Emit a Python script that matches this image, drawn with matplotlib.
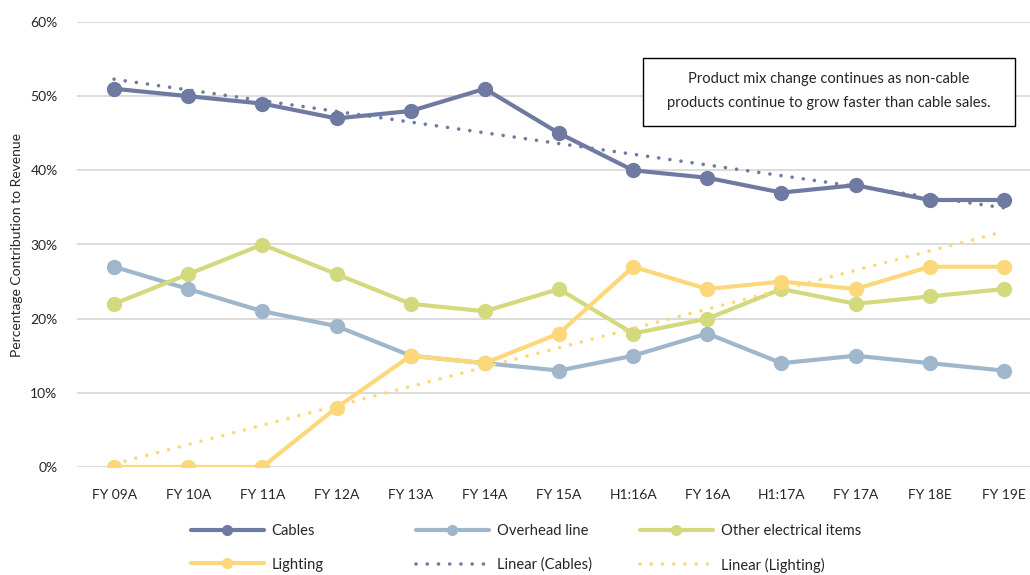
import numpy as np
import matplotlib
matplotlib.use("Agg")
import matplotlib.pyplot as plt
from matplotlib.patches import Rectangle
from matplotlib.ticker import PercentFormatter

plt.rcParams["font.family"] = ["Lato", "DejaVu Sans"]

periods = ["FY 09A", "FY 10A", "FY 11A", "FY 12A", "FY 13A", "FY 14A", "FY 15A",
           "H1:16A", "FY 16A", "H1:17A", "FY 17A", "FY 18E", "FY 19E"]
cables = [51, 50, 49, 47, 48, 51, 45, 40, 39, 37, 38, 36, 36]
overhead = [27, 24, 21, 19, 15, 14, 13, 15, 18, 14, 15, 14, 13]
other_items = [22, 26, 30, 26, 22, 21, 24, 18, 20, 24, 22, 23, 24]
lighting = [0, 0, 0, 8, 15, 14, 18, 27, 24, 25, 24, 27, 27]

note = "Product mix change continues as non-cable\nproducts continue to grow faster than cable sales."

c_cables = "#6f7aa3"
c_overhead = "#9fb6cb"
c_other = "#d3da7d"
c_lighting = "#fcd87a"
text_col = "#262626"

fig = plt.figure(figsize=(10.3, 5.75), dpi=100)
ax = fig.add_axes([77 / 1030, 108 / 575, 964 / 1030, 445 / 575])

x = np.arange(len(periods))


def pct(vals):
    return np.array(vals) / 100.0


series = [
    ("Cables", cables, c_cables),
    ("Overhead line", overhead, c_overhead),
    ("Other electrical items", other_items, c_other),
    ("Lighting", lighting, c_lighting),
]
handles = {}
for name, vals, col in series:
    (h,) = ax.plot(x, pct(vals), color=col, lw=3, marker="o", ms=10,
                   solid_capstyle="round", zorder=3, label=name)
    handles[name] = h

# linear trend lines
for name, vals, col in [("Linear (Cables)", cables, c_cables),
                        ("Linear (Lighting)", lighting, c_lighting)]:
    k, b = np.polyfit(x, pct(vals), 1)
    (h,) = ax.plot(x, k * x + b, color=col, lw=2.6, linestyle=(0, (0.01, 3.1)),
                   dash_capstyle="round", zorder=4, label=name)
    handles[name] = h

ax.set_xlim(-0.5, len(periods) - 0.5)
ax.set_ylim(0, 0.6)
ax.set_yticks(np.arange(0, 0.61, 0.1))
ax.yaxis.set_major_formatter(PercentFormatter(1.0, decimals=0))
ax.set_xticks(x)
ax.set_xticklabels(periods)
ax.tick_params(length=0, labelsize=10, colors=text_col)
ax.tick_params(axis="x", pad=16)
ax.tick_params(axis="y", pad=14)
ax.grid(axis="y", color="#d9d9d9", lw=1.3)
ax.set_axisbelow(True)
for s in ax.spines.values():
    s.set_visible(False)

fig.text(17 / 1030, 1 - 245 / 575, "Percentage Contribution to Revenue",
         rotation=90, ha="center", va="center", fontsize=10, color=text_col)

# note box
fig.patches.append(Rectangle((643 / 1030, 1 - 126 / 575), 372 / 1030, 68 / 575,
                             transform=fig.transFigure, facecolor="white",
                             edgecolor="black", lw=1.0, zorder=5))
fig.text(829 / 1030, 1 - 91 / 575, note, ha="center", va="center",
         fontsize=10.6, color=text_col, linespacing=1.85, zorder=6)

# legend, three columns of two entries
columns = [["Cables", "Lighting"],
           ["Overhead line", "Linear (Cables)"],
           ["Other electrical items", "Linear (Lighting)"]]
col_x = [184, 409, 633]
for cx, names in zip(col_x, columns):
    leg = fig.legend([handles[n] for n in names], names, loc="upper left",
                     bbox_to_anchor=(cx / 1030, 1 - 517 / 575), frameon=False,
                     fontsize=10.6, handlelength=4.9, handletextpad=0.55,
                     labelspacing=1.3, markerscale=0.7, borderpad=0)
    for t in leg.get_texts():
        t.set_color(text_col)

fig.savefig("out.png", dpi=100)
